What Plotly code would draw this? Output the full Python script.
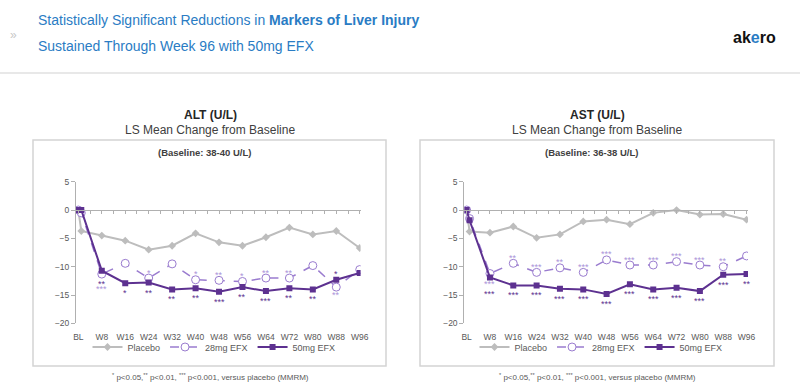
import plotly.graph_objects as go

# ---------------- data ----------------
weeks = [0, 1, 8, 16, 24, 32, 40, 48, 56, 64, 72, 80, 88, 96]
tick_weeks = [0, 8, 16, 24, 32, 40, 48, 56, 64, 72, 80, 88, 96]
tick_labels = ["BL", "W8", "W16", "W24", "W32", "W40", "W48", "W56", "W64", "W72", "W80", "W88", "W96"]
series_names = ["Placebo", "28mg EFX", "50mg EFX"]

alt_placebo = [0, -3.7, -4.5, -5.4, -7.0, -6.3, -4.1, -5.7, -6.3, -4.8, -3.1, -4.3, -3.7, -6.7]
alt_28mg = [0, -0.5, -11.3, -9.4, -12.0, -9.5, -12.3, -12.4, -12.6, -12.0, -12.0, -9.8, -13.6, -10.5]
alt_50mg = [0, 0, -10.7, -12.9, -12.8, -14.0, -13.8, -14.4, -13.6, -14.3, -13.8, -14.0, -12.3, -11.1]

ast_placebo = [0, -3.8, -4.0, -2.9, -4.9, -4.3, -2.0, -1.7, -2.5, -0.5, 0.0, -0.8, -0.7, -1.7]
ast_28mg = [0, -1.5, -11.2, -9.4, -11.0, -10.2, -11.0, -8.8, -9.7, -9.7, -9.1, -9.7, -10.0, -8.1]
ast_50mg = [0, -1.8, -11.9, -13.3, -13.3, -13.9, -14.0, -14.8, -13.1, -14.0, -13.7, -14.3, -11.4, -11.3]

# significance vs placebo, W8..W96
sig_weeks = [8, 16, 24, 32, 40, 48, 56, 64, 72, 80, 88, 96]
alt_sig_28 = ["***", "", "*", "", "*", "**", "*", "**", "**", "", "**", ""]
alt_sig_50 = ["**", "*", "**", "**", "**", "***", "**", "***", "**", "**", "*", ""]
ast_sig_28 = ["***", "**", "***", "**", "***", "***", "***", "***", "***", "***", "**", ""]
ast_sig_50 = ["***", "***", "***", "***", "***", "***", "***", "***", "***", "***", "***", "**"]

y_ticks = [5, 0, -5, -10, -15, -20]

# ---------------- style ----------------
W, H = 800, 388
FONT = "Liberation Sans, Arial, sans-serif"
C_PLACEBO = "#bdbdbd"
C_28 = "#9a7ccf"
C_28_STAR = "#ab94d9"
C_50 = "#5d3190"
C_AXIS = "#b0b0b0"
C_TICK = "#595959"
BLUE = "#2a7cc4"

# star placement codes -> yshift (px, plotly: + is up)
SHIFT = {"a": 5.5, "b": -10, "b1": -8, "b2": -13, "b2l": -15, "b3": -16.5}
alt_place_28 = ["b2l", "a", "a", "a", "a", "a", "a", "a", "a", "a", "b1", "a"]
alt_place_50 = ["b2", "b", "b", "b", "b", "b", "b", "b", "b", "b", "a", "b"]
ast_place_28 = ["b", "a", "a", "a", "a", "a", "a", "a", "a", "a", "a", "a"]
ast_place_50 = ["b3", "b", "b", "b", "b", "b", "b", "b", "b", "b", "b", "b"]


def fx(p):
    return p / W


def fy(p):
    return 1 - p / H


Y_DOM = [fy(323.4), fy(181.7)]
Y_RANGE = [-20, 5]
zero_pos = Y_DOM[0] + (0 - Y_RANGE[0]) / (Y_RANGE[1] - Y_RANGE[0]) * (Y_DOM[1] - Y_DOM[0])

panels = [
    dict(x="x", y="y", xo="x3", legend="legend", dom=[fx(76), fx(360.6)], rng=[-0.8, 96.3],
         data=[alt_placebo, alt_28mg, alt_50mg], sig28=alt_sig_28, sig50=alt_sig_50,
         p28=alt_place_28, p50=alt_place_50),
    dict(x="x2", y="y2", xo="x4", legend="legend2", dom=[fx(464.3), fx(748)], rng=[-0.8, 96.5],
         data=[ast_placebo, ast_28mg, ast_50mg], sig28=ast_sig_28, sig50=ast_sig_50,
         p28=ast_place_28, p50=ast_place_50),
]

fig = go.Figure()
annotations = []

for pn in panels:
    pl, d28, d50 = pn["data"]
    fig.add_trace(go.Scatter(
        x=weeks, y=pl, name=series_names[0], xaxis=pn["x"], yaxis=pn["y"], legend=pn["legend"],
        mode="lines+markers", line=dict(color=C_PLACEBO, width=2),
        marker=dict(symbol="diamond", size=6, color=C_PLACEBO), hoverinfo="skip"))
    fig.add_trace(go.Scatter(
        x=weeks, y=d28, name=series_names[1], xaxis=pn["x"], yaxis=pn["y"], legend=pn["legend"],
        mode="lines+markers", line=dict(color=C_28, width=1.5, dash="dash"),
        marker=dict(symbol="circle", size=8, color="white", line=dict(color=C_28, width=1)),
        hoverinfo="skip"))
    fig.add_trace(go.Scatter(
        x=weeks, y=d50, name=series_names[2], xaxis=pn["x"], yaxis=pn["y"], legend=pn["legend"],
        mode="lines+markers", line=dict(color=C_50, width=2),
        marker=dict(symbol="square", size=6, color=C_50), hoverinfo="skip"))
    # dummy trace for the zero-line axis
    fig.add_trace(go.Scatter(x=[], y=[], xaxis=pn["xo"], yaxis=pn["y"], showlegend=False,
                             hoverinfo="skip"))

    # significance stars
    for i, wk in enumerate(sig_weeks):
        idx = weeks.index(wk)
        if pn["sig50"][i]:
            annotations.append(dict(
                x=wk, y=d50[idx], xref=pn["x"], yref=pn["y"], text=pn["sig50"][i],
                showarrow=False, yanchor="middle", yshift=SHIFT[pn["p50"][i]],
                font=dict(family=FONT, size=9, color=C_50)))
        if pn["sig28"][i]:
            annotations.append(dict(
                x=wk, y=d28[idx], xref=pn["x"], yref=pn["y"], text=pn["sig28"][i],
                showarrow=False, yanchor="middle", yshift=SHIFT[pn["p28"][i]],
                font=dict(family=FONT, size=9, color=C_28_STAR)))

layout_axes = {}
for k, pn in enumerate(panels):
    xname = "xaxis" if pn["x"] == "x" else "xaxis2"
    yname = "yaxis" if pn["y"] == "y" else "yaxis2"
    xoname = "xaxis3" if pn["xo"] == "x3" else "xaxis4"
    layout_axes[xname] = dict(
        domain=pn["dom"], range=pn["rng"], anchor=pn["y"], showline=False, showgrid=False,
        zeroline=False, tickmode="array", tickvals=tick_weeks, ticktext=tick_labels,
        ticks="outside", ticklen=5, tickcolor="rgba(0,0,0,0)", automargin=False,
        tickfont=dict(family=FONT, size=8.5, color=C_TICK), fixedrange=True)
    layout_axes[xoname] = dict(
        overlaying=pn["x"], anchor="free", position=zero_pos, range=pn["rng"],
        showline=True, linecolor=C_AXIS, linewidth=1, showgrid=False, zeroline=False,
        tickmode="linear", tick0=0, dtick=4, ticks="outside", ticklen=3, tickcolor=C_AXIS,
        showticklabels=False, fixedrange=True, automargin=False)
    layout_axes[yname] = dict(
        domain=Y_DOM, range=Y_RANGE, anchor=pn["x"], showline=True, linecolor=C_AXIS,
        linewidth=1, showgrid=False, zeroline=False, tickmode="array", tickvals=y_ticks,
        ticks="outside", ticklen=4, tickcolor=C_AXIS, automargin=False,
        tickfont=dict(family=FONT, size=8.5, color=C_TICK), fixedrange=True)

# ---------------- text ----------------
annotations += [
    dict(x=fx(36), y=fy(20), xref="paper", yref="paper", xanchor="left", yanchor="middle",
         showarrow=False, text="Statistically Significant Reductions in <b>Markers of Liver Injury</b>",
         font=dict(family=FONT, size=14, color=BLUE)),
    dict(x=fx(36), y=fy(46), xref="paper", yref="paper", xanchor="left", yanchor="middle",
         showarrow=False, text="Sustained Through Week 96 with 50mg EFX",
         font=dict(family=FONT, size=14, color=BLUE)),
    dict(x=fx(13), y=fy(35), xref="paper", yref="paper", xanchor="center", yanchor="middle",
         showarrow=False, text="»", font=dict(family=FONT, size=12, color="#c8c8c8")),
    dict(x=fx(778), y=fy(37), xref="paper", yref="paper", xanchor="right", yanchor="middle",
         showarrow=False, text="<b>ak<span style='color:#2a7cc4'>e</span>ro</b>",
         font=dict(family=FONT, size=16, color="#111111")),
]

for cx, name, base in [(210, "ALT (U/L)", "(Baseline: 38-40 U/L)"),
                       (597, "AST (U/L)", "(Baseline: 36-38 U/L)")]:
    annotations += [
        dict(x=fx(cx), y=fy(115), xref="paper", yref="paper", xanchor="center", yanchor="middle",
             showarrow=False, text="<b>" + name + "</b>",
             font=dict(family=FONT, size=12, color="#262626")),
        dict(x=fx(cx), y=fy(130), xref="paper", yref="paper", xanchor="center", yanchor="middle",
             showarrow=False, text="LS Mean Change from Baseline",
             font=dict(family=FONT, size=12, color="#404040")),
        dict(x=fx(cx - 6), y=fy(153), xref="paper", yref="paper", xanchor="center", yanchor="middle",
             showarrow=False, text="<b>" + base + "</b>",
             font=dict(family=FONT, size=9.5, color="#404040")),
        dict(x=fx(cx), y=fy(377), xref="paper", yref="paper", xanchor="center", yanchor="middle",
             showarrow=False,
             text="<sup>*</sup> p&lt;0.05,<sup>**</sup> p&lt;0.01, <sup>***</sup> p&lt;0.001, versus placebo (MMRM)",
             font=dict(family=FONT, size=8, color="#595959")),
    ]

shapes = [
    dict(type="line", xref="paper", yref="paper", x0=0, x1=1, y0=fy(73), y1=fy(73),
         line=dict(color="#e0e0e0", width=1.5)),
    dict(type="rect", xref="paper", yref="paper", x0=fx(33), x1=fx(386), y0=fy(366), y1=fy(140),
         line=dict(color="#d4d4d4", width=1.5)),
    dict(type="rect", xref="paper", yref="paper", x0=fx(420), x1=fx(774), y0=fy(366), y1=fy(140),
         line=dict(color="#d4d4d4", width=1.5)),
]

legend_style = dict(orientation="h", xanchor="center", yanchor="middle", y=fy(347),
                    font=dict(family=FONT, size=9, color=C_TICK), bgcolor="rgba(0,0,0,0)",
                    itemwidth=30, tracegroupgap=0, traceorder="normal")

fig.update_layout(
    template="none",
    width=W, height=H, margin=dict(l=0, r=0, t=0, b=0, pad=0, autoexpand=False),
    paper_bgcolor="white", plot_bgcolor="white",
    showlegend=True,
    legend=dict(x=fx(214), **legend_style),
    legend2=dict(x=fx(601), **legend_style),
    annotations=annotations, shapes=shapes,
    **layout_axes,
)

fig.write_html("out.html", config={"displayModeBar": False},
               post_script="document.body.style.margin='0';document.body.style.padding='0';")
